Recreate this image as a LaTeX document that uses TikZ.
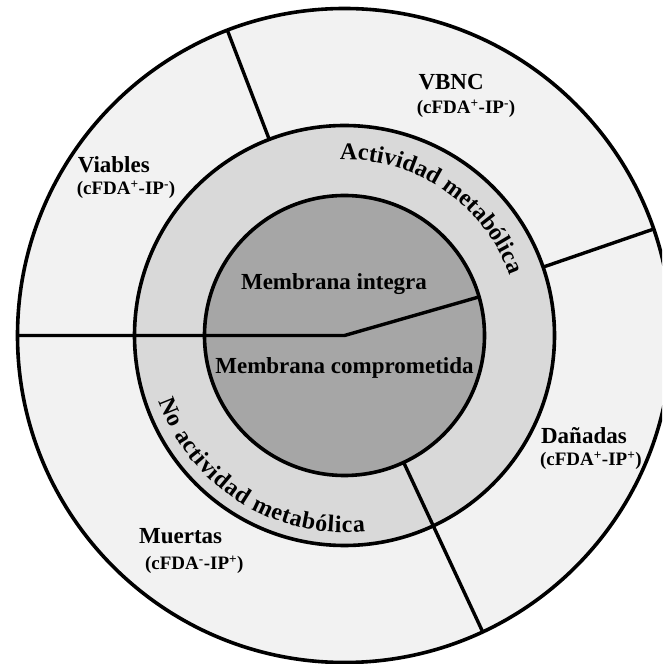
\documentclass[tikz,border=0pt]{standalone}
\usepackage{fontspec}
\setmainfont{Liberation Serif}
\usetikzlibrary{decorations.text}
\definecolor{ringout}{HTML}{F2F2F2}
\definecolor{ringmid}{HTML}{D9D9D9}
\definecolor{ringin}{HTML}{A6A6A6}
\begin{document}
\begin{tikzpicture}[x=1pt,y=1pt,line width=3.6pt,
  ring/.style={circle,draw=black,line width=3.6pt,inner sep=0pt,outer sep=0pt},
  lab/.style={font=\bfseries\fontsize{23}{27}\selectfont,inner sep=0pt,anchor=base west},
  sublab/.style={font=\bfseries\fontsize{19}{23}\selectfont,inner sep=0pt,anchor=base west},
  midlab/.style={font=\bfseries\fontsize{23}{27}\selectfont,inner sep=0pt,anchor=base},
  divider/.style={draw=black,line width=3.4pt,line join=round}]
\useasboundingbox (0,0) rectangle (662,664);
\clip (0,0) rectangle (662,664);
\coordinate (c) at (344.5,328.5);
\node[ring,fill=ringout,minimum size=654pt] (outer) at (c) {};
\node[ring,fill=ringmid,minimum size=420pt] (mid) at (c) {};
\node[ring,fill=ringin,minimum size=280pt] (inner) at (c) {};
% dividers
\draw[divider] (outer.180) -- (c) -- (inner.16.7);
\draw[divider] (mid.111) -- (outer.111);
\draw[divider] (mid.19) -- (outer.19);
\draw[divider] (inner.295) -- (outer.295);
% labels
\node[lab] (viables) at (76,491.3) {Viables};
\node[sublab] (viablessub) at (75,469) {(cFDA\textsuperscript{+}-IP\textsuperscript{-})};
\node[lab] (vbnc) at (416.7,574) {VBNC};
\node[sublab] (vbncsub) at (415,550.7) {(cFDA\textsuperscript{+}-IP\textsuperscript{-})};
\node[lab] (danadas) at (539.3,220.7) {Dañadas};
\node[sublab] (danadassub) at (538.3,198.3) {(cFDA\textsuperscript{+}-IP\textsuperscript{+})};
\node[lab] (muertas) at (137.3,120.7) {Muertas};
\node[sublab] (muertassub) at (143.3,94.7) {(cFDA\textsuperscript{-}-IP\textsuperscript{+})};
\node[midlab] (integra) at (334,374.7) {Membrana integra};
\node[midlab] (compro) at (344.5,290.7) {Membrana comprometida};
% curved texts
\path[decorate,decoration={text along path,text align=fit to path,
  text={|\bfseries\fontsize{24}{28}\selectfont|Actividad metabólica}}]
  ([shift={(91.5:176)}]c) arc[start angle=91.5,end angle=20,radius=176];
\path[decorate,decoration={text along path,text align=fit to path,
  text={|\bfseries\fontsize{24}{28}\selectfont|No actividad metabólica}}]
  ([shift={(199.5:197)}]c) arc[start angle=199.5,end angle=276,radius=197];
\end{tikzpicture}
\end{document}
